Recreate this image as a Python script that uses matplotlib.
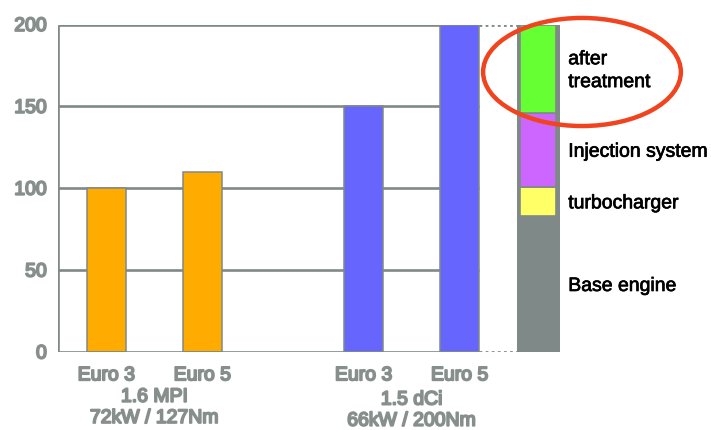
"""Cost comparison: gasoline vs diesel engines, Euro 3 vs Euro 5."""

import matplotlib.pyplot as plt
import matplotlib.patheffects as pe
from matplotlib.patches import Ellipse

plt.rcParams["font.family"] = ["Liberation Sans", "DejaVu Sans"]

# data
bar_labels = ["Euro 3", "Euro 5", "Euro 3", "Euro 5"]
bar_values = [100, 110, 150, 200]
engine_names = ["1.6 MPI\n72kW / 127Nm", "1.5 dCi\n66kW / 200Nm"]
cost_parts = ["Base engine", "turbocharger", "Injection system", "after\ntreatment"]
cost_values = [83, 18, 45, 54]

# layout
positions = [0, 1, 2.68, 3.68]
bar_colors = ["#ffab00", "#ffab00", "#6666ff", "#6666ff"]
part_colors = ["#7f8a88", "#ffff66", "#cc66ff", "#66ff33"]
stack_pos = 4.5
grey = "#7f8a88"
label_grey = "#878f8d"
# bold faces are not always available, so thicken the strokes instead
heavy = [pe.withStroke(linewidth=1.3, foreground=label_grey)]
dark = [pe.withStroke(linewidth=0.5, foreground="black")]
width = 0.41

fig = plt.figure(figsize=(7.11, 4.30), dpi=100)
ax = fig.add_axes([58 / 711, 78 / 430, 1 - 58 / 711, 327.5 / 430])
ax.set_xlim(-0.505, 6.297)
ax.set_ylim(0, 200)

right_edge = positions[-1] + width / 2
ax.hlines([50, 100, 150, 200], -0.505, right_edge, color=grey, lw=1.9, zorder=1)
ax.hlines(0, -0.505, right_edge, color=grey, lw=1.9, zorder=4)
ax.vlines(-0.505, 0, 200, color=grey, lw=1.9, zorder=4)

ax.bar(positions, bar_values, width=width, color=bar_colors,
       edgecolor=grey, linewidth=1.1, zorder=2)

# stacked cost breakdown column
total = sum(cost_values)
ax.bar(stack_pos, total, width=0.448, color=grey, linewidth=0, zorder=2)
bottom = 0
for name, value, color in zip(cost_parts, cost_values, part_colors):
    if color != grey:
        ax.bar(stack_pos - 0.005, value, width=0.375, bottom=bottom, color=color,
               edgecolor=grey, linewidth=1.2, zorder=3)
    ax.text(stack_pos + 0.31, bottom + value / 2 - 1.5, name, ha="left", va="center",
            fontsize=14, color="black", linespacing=1.45, path_effects=dark)
    bottom += value

# dotted connectors
ax.hlines([0, 200], right_edge, stack_pos - 0.224, color=grey, lw=2,
          linestyles=(0, (1, 1.2)), zorder=1)

ax.add_patch(Ellipse((4.953, 171), 2.06, 66, fill=False, edgecolor="#f0441f",
                     lw=3.2, zorder=5, clip_on=False))

ax.set_xticks(positions)
ax.set_xticklabels(bar_labels, fontsize=14, color=label_grey)
ax.set_yticks([0, 50, 100, 150, 200])
ax.set_yticklabels(["0", "50", "100", "150", "200"], fontsize=14, color=label_grey)
for lab in ax.get_xticklabels() + ax.get_yticklabels():
    lab.set_path_effects(heavy)
ax.tick_params(length=0, pad=8)
ax.tick_params(axis="x", pad=11)

for name, group, drop in zip(engine_names, [positions[:2], positions[2:]], [-26.5, -28.5]):
    ax.annotate(name, xy=(sum(group) / 2, 0), xytext=(0, drop),
                textcoords="offset points", ha="center", va="top",
                fontsize=14, color=label_grey, linespacing=1.32,
                path_effects=heavy, annotation_clip=False)

for side in ax.spines.values():
    side.set_visible(False)

fig.savefig("out.png", dpi=100)
